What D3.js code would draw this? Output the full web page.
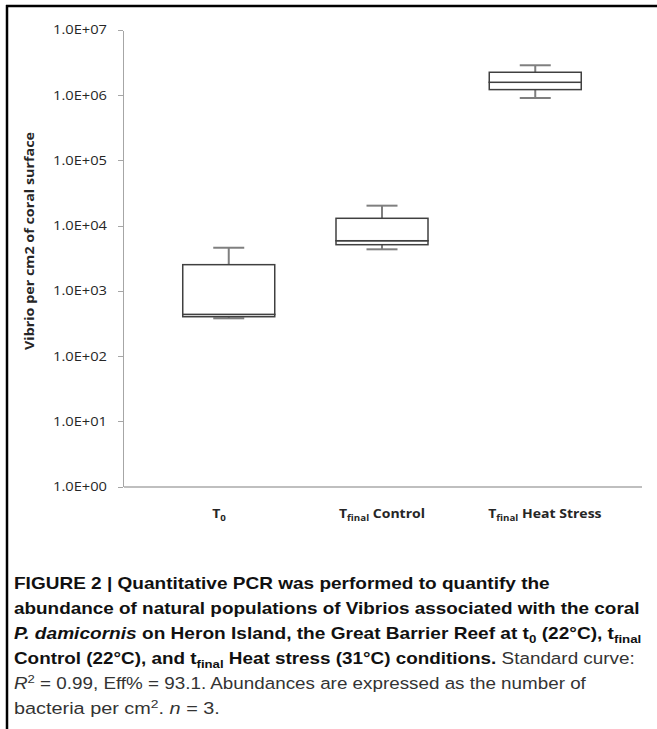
<!DOCTYPE html>
<html lang="en">
<head>
<meta charset="utf-8">
<script src="https://d3js.org/d3.v7.min.js"></script>
<style>
  body { margin: 0; background: #fff; }
  svg { display: block; }
  .axis path, .axis line { shape-rendering: crispEdges; }
</style>
</head>
<body>
<svg width="657" height="729"></svg>
<script>
// categories and box statistics (Vibrio per cm2)
var categories = ["T0", "Tfinal Control", "Tfinal Heat Stress"];
var labelMain = ["T", "T", "T"];
var labelSub = ["0", "final", "final"];
var labelRest = ["", " Control", " Heat Stress"];

var whiskerLow = [381, 4350, 908000];
var q1 = [403, 5120, 1220000];
var median = [438, 5890, 1580000];
var q3 = [2530, 13000, 2250000];
var whiskerHigh = [4600, 20300, 2880000];

var yTicks = [1, 10, 100, 1000, 10000, 100000, 1000000, 10000000];

var svg = d3.select("svg");

// frame lines of the figure panel
svg.append("line").attr("x1", 6).attr("x2", 657).attr("y1", 6).attr("y2", 6)
    .attr("stroke", "#000").attr("stroke-width", 2.5);
svg.append("line").attr("x1", 7).attr("x2", 7).attr("y1", 5).attr("y2", 729)
    .attr("stroke", "#000").attr("stroke-width", 2.5);

// scales
var x = d3.scalePoint().domain(categories).range([123, 641]).padding(0.69);
var xLabel = d3.scalePoint().domain(categories).range([123, 641]).padding(0.59);
var y = d3.scaleLog().domain([1, 1e7]).range([486.7, 30]);

var boxW = 92, capW = 31;

//y-axis
var fmt = function (d) {
    var e = Math.round(Math.log10(d));
    return "1.0E+" + (e < 10 ? "0" : "") + e;
};
var gy = svg.append("g")
    .attr("class", "axis")
    .attr("transform", "translate(123,0)")
    .call(d3.axisLeft(y).tickValues(yTicks).tickFormat(fmt).tickSize(5).tickSizeOuter(0).tickPadding(11));
gy.select(".domain").attr("stroke", "#a6a6a6");
gy.selectAll(".tick line").attr("stroke", "#a6a6a6");
gy.selectAll(".tick text")
    .attr("font-family", "'Open Sans', sans-serif")
    .attr("font-size", 12)
    .attr("fill", "#262626")
    .attr("textLength", 54)
    .attr("lengthAdjust", "spacingAndGlyphs");

//x-axis (line only, labels drawn below)
var gx = svg.append("g")
    .attr("class", "axis")
    .attr("transform", "translate(0," + y(1) + ")")
    .call(d3.axisBottom(x).tickSize(0).tickSizeOuter(0).tickFormat(""));
gx.select(".domain").attr("stroke", "#bfbfbf").attr("stroke-width", 2);

// category labels with subscripts, stretched like the rest of the chart text
var lab = svg.append("g").selectAll("text")
    .data(categories)
    .enter().append("text")
    .attr("transform", function (d) { return "translate(" + xLabel(d) + ",518) scale(1.22,1)"; })
    .attr("text-anchor", "middle")
    .attr("font-family", "'Open Sans', sans-serif")
    .attr("font-weight", "bold")
    .attr("font-size", 11.5)
    .attr("fill", "#262626");
lab.append("tspan").text(function (d, i) { return labelMain[i]; });
lab.append("tspan").attr("dy", 3).attr("font-size", 8).text(function (d, i) { return labelSub[i]; });
lab.append("tspan").attr("dy", -3).text(function (d, i) { return labelRest[i]; });

// y label
svg.append("text")
    .attr("transform", "translate(34,350) rotate(-90)")
    .attr("font-family", "'Open Sans', sans-serif")
    .attr("font-weight", "bold")
    .attr("font-size", 12)
    .attr("fill", "#262626")
    .attr("textLength", 218)
    .attr("lengthAdjust", "spacingAndGlyphs")
    .text("Vibrio per cm2 of coral surface");

// whiskers
var wh = svg.append("g").attr("stroke", "#7f7f7f").attr("stroke-width", 2);
categories.forEach(function (c, i) {
    var cx = x(c);
    wh.append("line").attr("x1", cx).attr("x2", cx).attr("y1", y(q3[i])).attr("y2", y(whiskerHigh[i]));
    wh.append("line").attr("x1", cx).attr("x2", cx).attr("y1", y(q1[i])).attr("y2", y(whiskerLow[i]));
    wh.append("line").attr("x1", cx - capW / 2).attr("x2", cx + capW / 2)
        .attr("y1", y(whiskerHigh[i])).attr("y2", y(whiskerHigh[i]));
    wh.append("line").attr("x1", cx - capW / 2).attr("x2", cx + capW / 2)
        .attr("y1", y(whiskerLow[i])).attr("y2", y(whiskerLow[i]));
});

// boxes: lower part (q1-median) and upper part (median-q3)
var boxes = svg.append("g").attr("fill", "#fff").attr("stroke", "#404040").attr("stroke-width", 1.5);
boxes.selectAll(".lower")
    .data(categories)
    .enter().append("rect")
    .attr("class", "lower")
    .attr("x", function (d) { return x(d) - boxW / 2; })
    .attr("y", function (d, i) { return y(median[i]); })
    .attr("width", boxW)
    .attr("height", function (d, i) { return y(q1[i]) - y(median[i]); });
boxes.selectAll(".upper")
    .data(categories)
    .enter().append("rect")
    .attr("class", "upper")
    .attr("x", function (d) { return x(d) - boxW / 2; })
    .attr("y", function (d, i) { return y(q3[i]); })
    .attr("width", boxW)
    .attr("height", function (d, i) { return y(median[i]) - y(q3[i]); });

// caption
var capFont = "'Liberation Sans', Arial, sans-serif";
var caption = [
    { end: 550, segs: [["b", "FIGURE 2 | Quantitative PCR was performed to quantify the"]] },
    { end: 640, segs: [["b", "abundance of natural populations of Vibrios associated with the coral"]] },
    { end: 642, segs: [["bi", "P. damicornis"], ["b", " on Heron Island, the Great Barrier Reef at t"], ["bsub", "0"],
        ["b", " (22°C), t"], ["bsub", "final"]] },
    { end: 635, segs: [["b", "Control (22°C), and t"], ["bsub", "final"], ["b", " Heat stress (31°C) conditions."],
        ["r", " Standard curve:"]] },
    { end: 587, segs: [["ri", "R"], ["rsup", "2"], ["r", " = 0.99, Eff% = 93.1. Abundances are expressed as the number of"]] },
    { end: 220, segs: [["r", "bacteria per cm"], ["rsup", "2"], ["r", ". "], ["ri", "n"], ["r", " = 3."]] }
];
var capX = 14, capY0 = 588.5, capStep = 25;
caption.forEach(function (line, li) {
    var t = svg.append("text")
        .attr("font-family", capFont)
        .attr("font-size", 16.5);
    var shift = 0;
    line.segs.forEach(function (s) {
        var st = s[0];
        var ts = t.append("tspan").text(s[1]);
        var want = 0;
        if (st.indexOf("sub") > 0) want = 4;
        if (st.indexOf("sup") > 0) want = -6;
        if (want !== shift) { ts.attr("dy", want - shift); shift = want; }
        if (want !== 0) ts.attr("font-size", 11.5);
        ts.attr("font-weight", st[0] === "b" ? "bold" : "normal")
            .attr("font-style", st.indexOf("i") > 0 ? "italic" : "normal")
            .attr("fill", st[0] === "b" ? "#111" : "#333");
    });
    var w = t.node().getBBox().width;
    var sx = (line.end - capX) / w;
    t.attr("transform", "translate(" + capX + "," + (capY0 + li * capStep) + ") scale(" + sx + ",1)");
});
</script>
</body>
</html>
